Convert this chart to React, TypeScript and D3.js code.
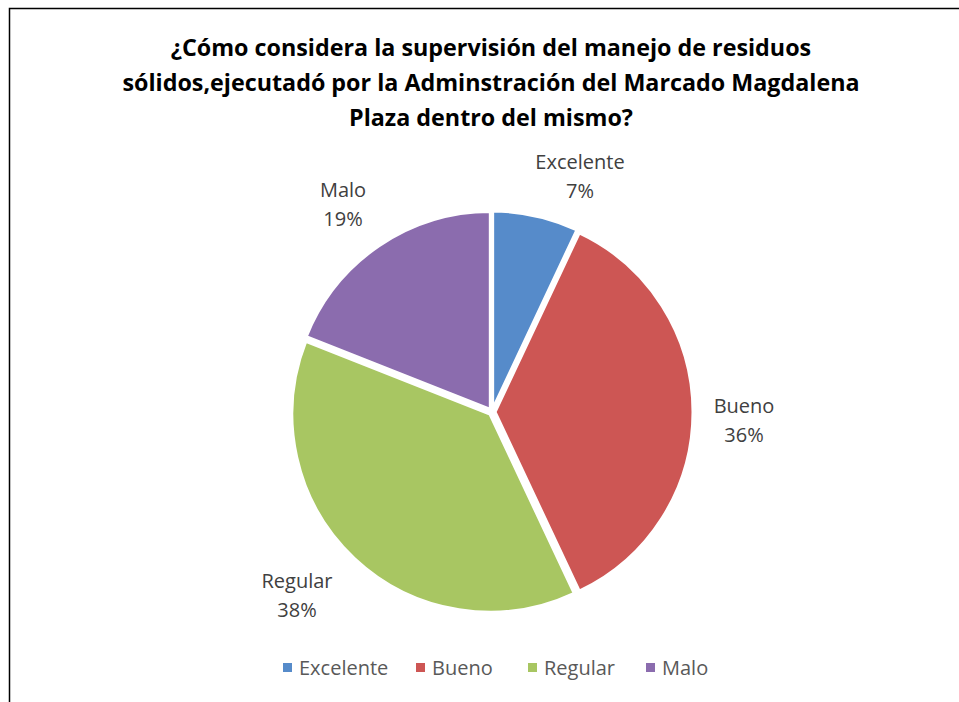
import React from "react";
import * as d3 from "d3";

const categories = ["Excelente", "Bueno", "Regular", "Malo"];
const values = [7, 36, 38, 19];
const colors = ["#568bca", "#cd5654", "#a8c662", "#8b6cae"];
const titleLines = [
  "¿Cómo considera la supervisión del manejo de residuos",
  "sólidos,ejecutadó por la Adminstración del Marcado Magdalena",
  "Plaza dentro del mismo?",
];
const labelPos = [
  [580, 162],
  [744, 406],
  [297, 581],
  [343, 190],
];
const legendX = [287, 420, 532, 650];

export default function App() {
  const W = 959, H = 702;
  const cx = 492, cy = 412, r = 198;
  const pie = d3.pie<number>().sort(null).value((d) => d);
  const arcs = pie(values);
  const arc = d3.arc<d3.PieArcDatum<number>>().innerRadius(0).outerRadius(r);
  const total = d3.sum(values);
  const font = "'Open Sans', sans-serif";
  return (
    <svg width={W} height={H} style={{ position: "absolute", left: 0, top: 0 }}>
      <rect x={0} y={0} width={W} height={H} fill="#fff" />
      <rect x={9.5} y={8.5} width={W + 20} height={H + 20} fill="none" stroke="#000" strokeWidth={1.5} />
      {titleLines.map((t, i) => (
        <text key={i} x={491} y={56 + i * 35} textAnchor="middle" fontFamily={font} fontWeight="bold" fontSize={23.3} fill="#000">
          {t}
        </text>
      ))}
      <g transform={`translate(${cx},${cy})`}>
        {arcs.map((a, i) => {
          const mid = (a.startAngle + a.endAngle) / 2;
          const off = 3;
          return (
            <path
              key={i}
              d={arc(a) || ""}
              transform={`translate(${Math.sin(mid) * off},${-Math.cos(mid) * off})`}
              fill={colors[i]}
              stroke="#fff"
              strokeWidth={3}
            />
          );
        })}
      </g>
      {categories.map((c, i) => (
        <text key={c} x={labelPos[i][0]} y={labelPos[i][1]} textAnchor="middle" fontFamily={font} fontSize={20} fill="#404040">
          <tspan x={labelPos[i][0]} dy={7}>{c}</tspan>
          <tspan x={labelPos[i][0]} dy={29}>{Math.round((values[i] / total) * 100)}%</tspan>
        </text>
      ))}
      {categories.map((c, i) => (
        <g key={c}>
          <rect x={legendX[i] - 4} y={663} width={9} height={9} fill={colors[i]} />
          <text x={legendX[i] + 12} y={675} fontFamily={font} fontSize={20} fill="#595959">{c}</text>
        </g>
      ))}
    </svg>
  );
}
